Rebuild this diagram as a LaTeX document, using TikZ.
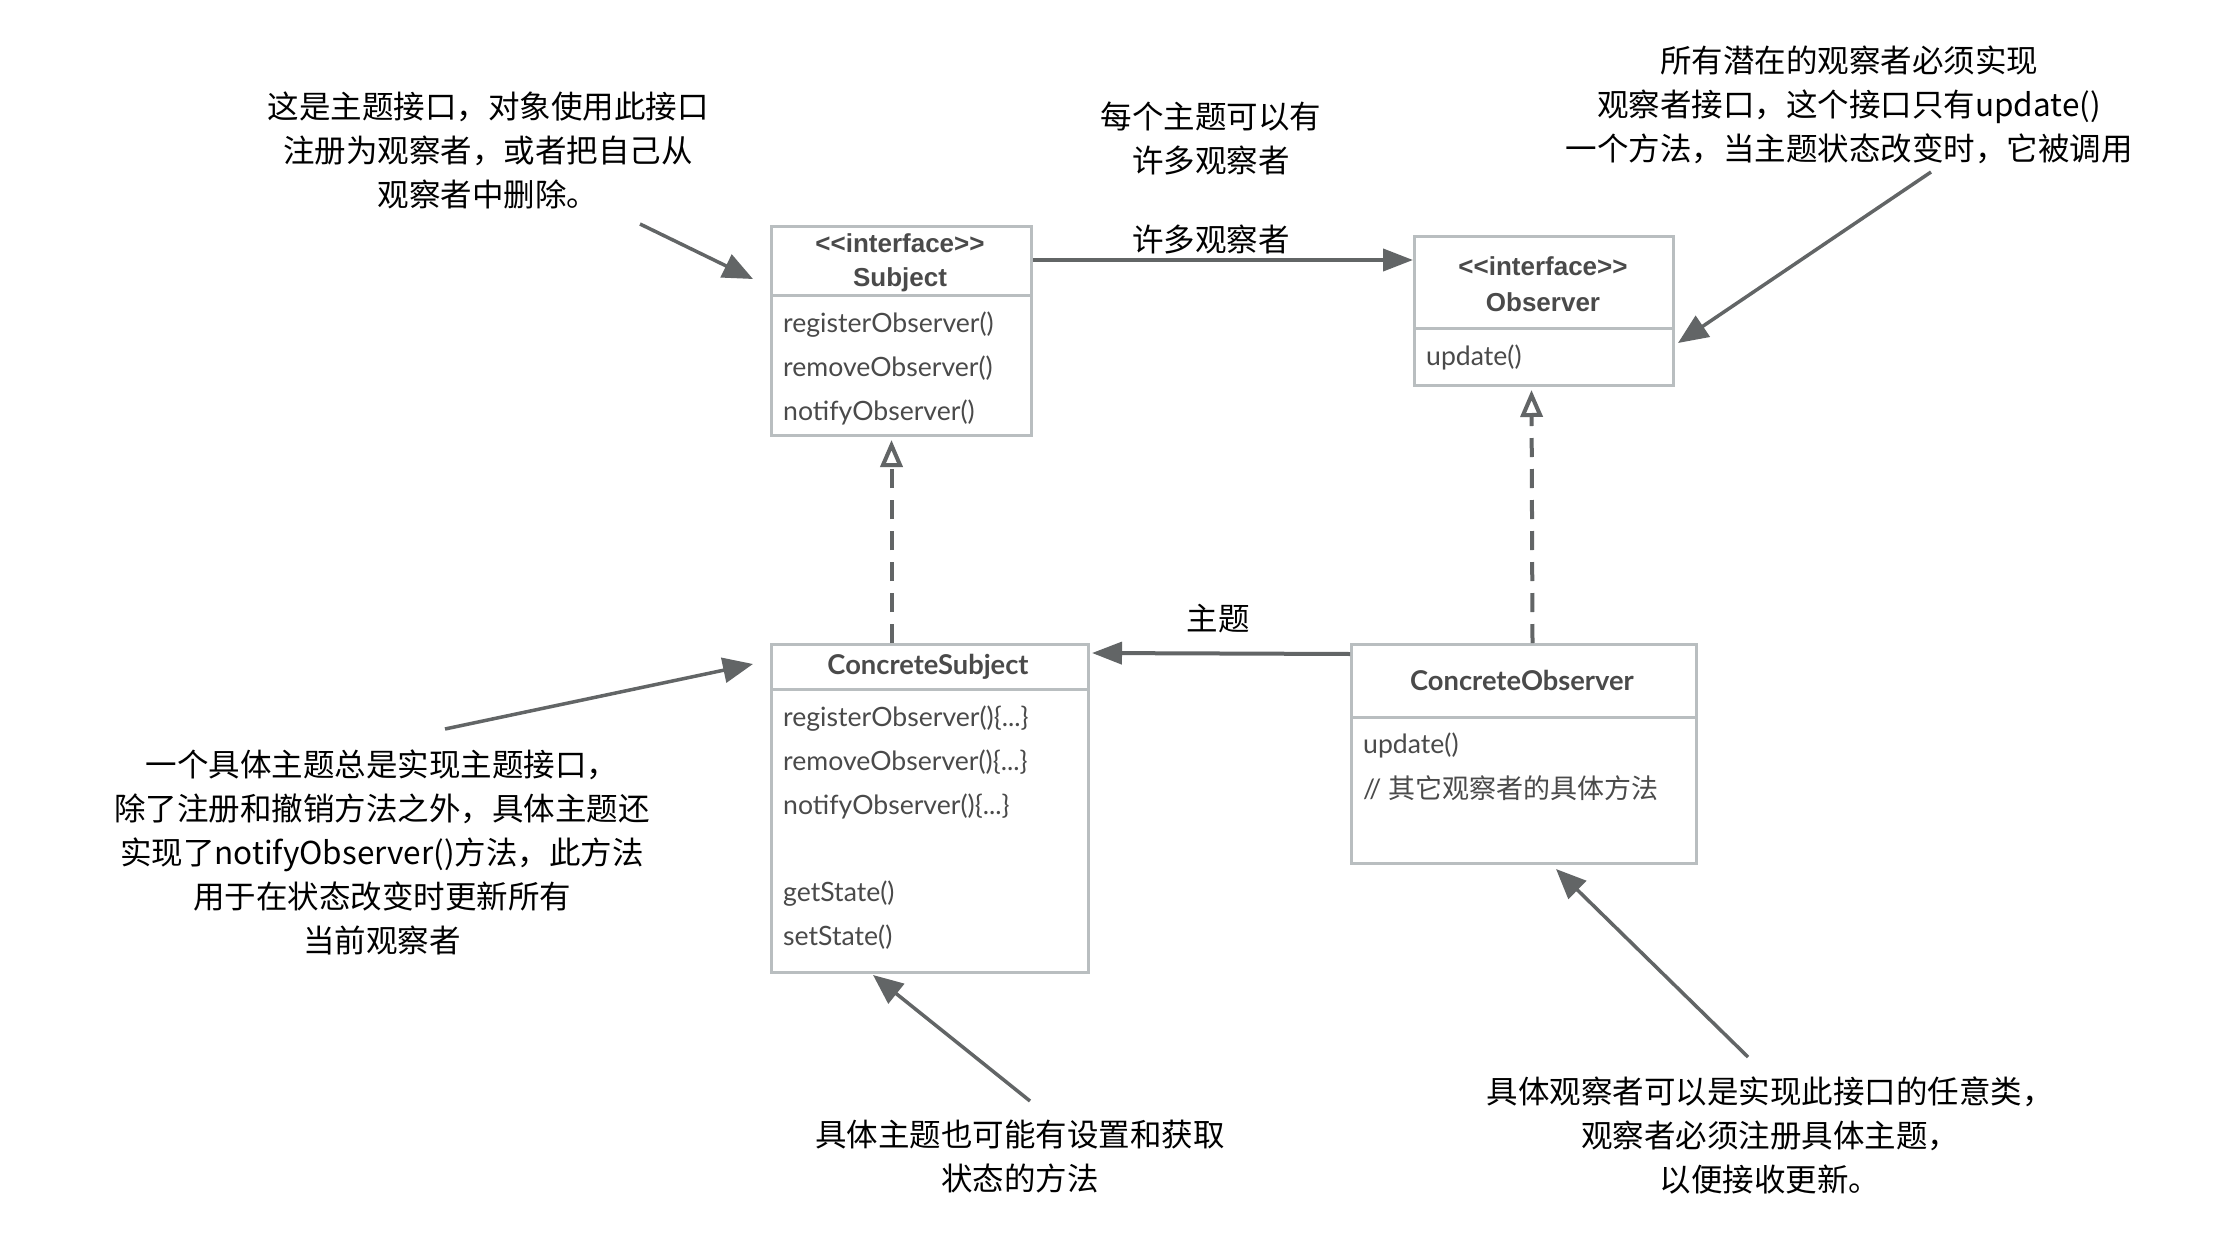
\documentclass[tikz,border=0pt]{standalone}
\usepackage{fontspec}
\setmainfont{Noto Sans CJK SC}
\newfontfamily\boxfont{Lato}
\newfontfamily\hdrfont{Liberation Sans}
\usetikzlibrary{arrows.meta,calc}
\definecolor{boxline}{HTML}{B9BEC0}
\definecolor{boxtext}{HTML}{4A4A4A}
\definecolor{arrowc}{HTML}{626566}
\tikzset{
  umlbox/.style={draw=boxline, line width=3pt, anchor=north west, inner sep=0pt, fill=white},
  hdr/.style={font=\hdrfont\bfseries\fontsize{26}{30}\selectfont, text=boxtext, inner sep=0pt},
  ttl/.style={font=\boxfont\bfseries\fontsize{27.3}{30}\selectfont, text=boxtext, inner sep=0pt},
  meth/.style={font=\boxfont\fontsize{26.6}{30}\selectfont, text=boxtext, anchor=mid west, inner sep=0pt},
  note/.style={font=\fontsize{31.5}{44}\selectfont, align=center, text=black, inner sep=0pt},
  assoc/.style={draw=arrowc, line width=4pt, -{Triangle[length=30pt,width=22pt]}},
  realize/.style={draw=arrowc, line width=4pt, dash pattern=on 19pt off 12pt, -{Triangle[open,length=27pt,width=22pt,line width=4pt]}},
  pointer/.style={draw=arrowc, line width=3.5pt, -{Triangle[length=30pt,width=25pt]}}
}
\begin{document}
\begin{tikzpicture}[x=1pt,y=-1pt]
\useasboundingbox[fill=white] (0,0) rectangle (2216,1252);

% Subject
\node[umlbox, minimum width=260pt, minimum height=209pt] (subj) at (770,225) {};
\draw[boxline, line width=3pt] (770,295) -- (1030,295);
\node[hdr] (subjst) at (900,243) {<<interface>>};
\node[hdr] (subjnm) at (900,280) {Subject};
\node[meth] (s1) at (783,330) {registerObserver()};
\node[meth] (s2) at (783,374) {removeObserver()};
\node[meth] (s3) at (783,418) {notifyObserver()};

% Observer
\node[umlbox, minimum width=259pt, minimum height=149pt] (obs) at (1413,235) {};
\draw[boxline, line width=3pt] (1413,328) -- (1672,328);
\node[hdr] (obsst) at (1543,266) {<<interface>>};
\node[hdr] (obsnm) at (1543,302) {Observer};
\node[meth] (o1) at (1426,363) {update()};

% ConcreteSubject
\node[umlbox, minimum width=317pt, minimum height=328pt] (csubj) at (770,643) {};
\draw[boxline, line width=3pt] (770,689) -- (1087,689);
\node[ttl] (csnm) at (928,667) {ConcreteSubject};
\node[meth] (c1) at (783,724) {registerObserver()\{...\}};
\node[meth] (c2) at (783,768) {removeObserver()\{...\}};
\node[meth] (c3) at (783,812) {notifyObserver()\{...\}};
\node[meth] (c4) at (783,899) {getState()};
\node[meth] (c5) at (783,943) {setState()};

% ConcreteObserver
\node[umlbox, minimum width=345pt, minimum height=219pt] (cobs) at (1350,643) {};
\draw[boxline, line width=3pt] (1350,717) -- (1695,717);
\node[ttl] (conm) at (1522,680) {ConcreteObserver};
\node[meth] (co1) at (1363,751) {update()};
\node[meth] (co2) at (1363,796) {// \fontspec{Noto Sans CJK SC}\fontsize{27}{30}\selectfont 其它观察者的具体方法};

% Connectors between classes
\draw[assoc] ([yshift=-35pt]subj.north east) -- ([yshift=-25pt]obs.north west);
\node[note] (lbl1) at (1211,239) {许多观察者};
\draw[assoc] ([yshift=-11pt]cobs.north west) -- ([xshift=2pt,yshift=-10pt]csubj.north east);
\node[note] (lbl2) at (1218,619) {主题};
\draw[realize] ([xshift=-38.5pt]csubj.north) -- ([xshift=-10pt,yshift=-3pt]subj.south);
\draw[realize] ([xshift=8.5pt]cobs.north) -- ([xshift=-12.5pt,yshift=-3pt]obs.south);

% Notes
\node[note] (n1) at (488,150) {这是主题接口，对象使用此接口\\注册为观察者，或者把自己从\\观察者中删除。};
\node[note] (n2) at (1211,138) {每个主题可以有\\许多观察者};
\node[note] (n3) at (1849,105) {所有潜在的观察者必须实现\\观察者接口，这个接口只有update()\\一个方法，当主题状态改变时，它被调用};
\node[note] (n4) at (382,852) {一个具体主题总是实现主题接口，\\除了注册和撤销方法之外，具体主题还\\实现了notifyObserver()方法，此方法\\用于在状态改变时更新所有\\当前观察者};
\node[note] (n5) at (1020,1157) {具体主题也可能有设置和获取\\状态的方法};
\node[note] (n6) at (1770,1135) {具体观察者可以是实现此接口的任意类，\\观察者必须注册具体主题，\\以便接收更新。};

% Pointer arrows
\coordinate (p1s) at (640,224);
\coordinate (p1e) at (753,279);
\coordinate (p2s) at (1931,172);
\coordinate (p2e) at (1678,343);
\coordinate (p3s) at (445,729);
\coordinate (p3e) at (753,664);
\coordinate (p4s) at (1030,1101);
\coordinate (p4e) at (873,975);
\coordinate (p5s) at (1748,1057);
\coordinate (p5e) at (1556,869);
\draw[pointer] (p1s) -- (p1e);
\draw[pointer] (p2s) -- (p2e);
\draw[pointer] (p3s) -- (p3e);
\draw[pointer] (p4s) -- (p4e);
\draw[pointer] (p5s) -- (p5e);
\end{tikzpicture}
\end{document}
